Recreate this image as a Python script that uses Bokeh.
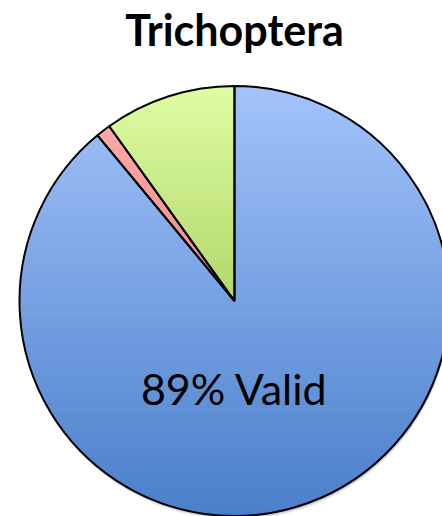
import numpy as np
from bokeh.plotting import figure
from bokeh.models import Range1d, ColumnDataSource
from bokeh.core.properties import value
from bokeh.embed import file_html
from bokeh.resources import INLINE

# ---- data ----
categories = ["Valid", "Invalid", "Uncertain"]
percent = [89.0, 1.1, 9.9]
top_colors = ["#a3c3fa", "#ffa9a9", "#defda4"]
bottom_colors = ["#4a7fca", "#f08886", "#b3d76a"]
title_text = "Trichoptera"
label_text = "89% Valid"

W, H = 442, 516
cx, cy, R = 234.0, 215.5, 215.0

p = figure(width=W, height=H, output_backend="svg", toolbar_location=None,
           x_range=Range1d(0, W), y_range=Range1d(0, H), min_border=0)
p.axis.visible = False
p.grid.visible = False
p.outline_line_color = None
p.background_fill_color = "white"
p.border_fill_color = "white"

# soft shadow
for k, a in [(4, 0.05), (3, 0.07), (2, 0.09)]:
    p.circle(x=[cx + 1], y=[cy - k], radius=R, fill_color="black", fill_alpha=a, line_color=None)
p.circle(x=[cx], y=[cy], radius=R, fill_color="white", line_color=None)


def hex2rgb(h):
    h = h.lstrip("#")
    return np.array([int(h[i:i + 2], 16) for i in (0, 2, 4)], dtype=float)


def rgb2hex(c):
    c = np.clip(np.round(c), 0, 255).astype(int)
    return "#%02x%02x%02x" % tuple(c)


def clip_half(poly, y0, keep_above):
    out = []
    n = len(poly)
    for i in range(n):
        a = poly[i]
        b = poly[(i + 1) % n]
        ina = a[1] >= y0 if keep_above else a[1] <= y0
        inb = b[1] >= y0 if keep_above else b[1] <= y0
        if ina:
            out.append(a)
        if ina != inb:
            t = (y0 - a[1]) / (b[1] - a[1])
            out.append((a[0] + t * (b[0] - a[0]), y0))
    return out


fracs = np.array(percent) / np.sum(percent)
starts = np.pi / 2 - 2 * np.pi * np.concatenate([[0], np.cumsum(fracs)[:-1]])
ends = starts - 2 * np.pi * fracs

xs_all, ys_all, cols_all = [], [], []
for s, e, tc, bc in zip(starts, ends, top_colors, bottom_colors):
    n = max(8, int(abs(s - e) / (2 * np.pi) * 720))
    th = np.linspace(s, e, n)
    poly = [(cx, cy)] + [(cx + R * np.cos(t), cy + R * np.sin(t)) for t in th]
    ys = [q[1] for q in poly]
    ytop, ybot = max(ys), min(ys)
    c1, c2 = hex2rgb(tc), hex2rgb(bc)
    step = 2.0
    y = ybot
    while y < ytop:
        y2 = min(y + step, ytop)
        pc = clip_half(clip_half(poly, y, True), y2, False)
        if len(pc) >= 3:
            t = (ytop - (y + y2) / 2) / (ytop - ybot)
            col = rgb2hex(c1 + (c2 - c1) * t)
            xs_all.append([q[0] for q in pc])
            ys_all.append([q[1] for q in pc])
            cols_all.append(col)
        y = y2

src = ColumnDataSource(dict(xs=xs_all, ys=ys_all, c=cols_all))
p.patches("xs", "ys", source=src, fill_color="c", line_color="c", line_width=1)

# outlines
wsrc = ColumnDataSource(dict(cat=categories, s=starts, e=ends, x=[cx] * 3, y=[cy] * 3))
p.wedge(x="x", y="y", radius=R, start_angle="s", end_angle="e", direction="clock",
        source=wsrc, fill_color=None, line_color="black", line_width=2)

p.text(x=[cx], y=[H - 29], text=[title_text], text_font=value("Lato"), text_font_style="bold",
       text_font_size="43px", text_align="center", text_baseline="middle", text_color="black")
p.text(x=[cx], y=[H - 388], text=[label_text], text_font=value("Lato"),
       text_font_size="43px", text_align="center", text_baseline="middle", text_color="black")

open("out.html", "w").write(file_html(p, INLINE))
